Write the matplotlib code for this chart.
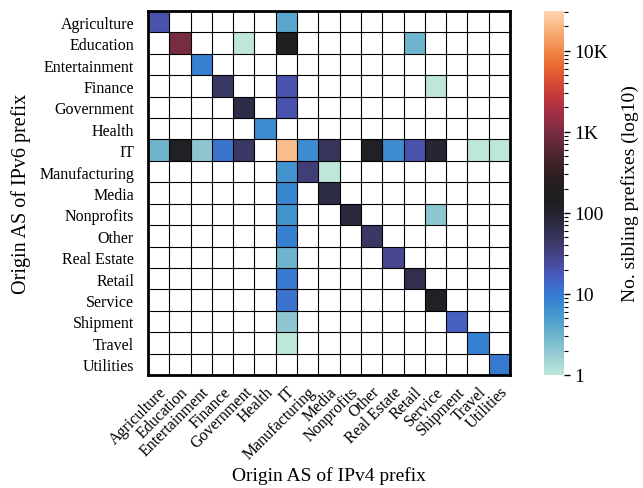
import matplotlib
matplotlib.use('Agg')

import numpy as np
import matplotlib.pyplot as plt
import seaborn as sns
from matplotlib.colors import LogNorm
from matplotlib.ticker import FuncFormatter, LogLocator

plt.rcParams['font.family'] = 'serif'
plt.rcParams['font.serif'] = ['Liberation Serif', 'DejaVu Serif']

sectors = ['Agriculture', 'Education', 'Entertainment', 'Finance', 'Government',
           'Health', 'IT', 'Manufacturing', 'Media', 'Nonprofits', 'Other',
           'Real Estate', 'Retail', 'Service', 'Shipment', 'Travel', 'Utilities']

# rows: IPv6 origin sector, columns: IPv4 origin sector (0 = no siblings)
counts = np.array([
    # Agr  Edu  Ent  Fin  Gov  Hea    IT  Man  Med  Non  Oth  Rea  Ret  Ser  Shi  Tra  Uti
    [  20,   0,   0,   0,   0,   0,     4,   0,   0,   0,   0,   0,   0,   0,   0,   0,   0],
    [   0, 1000,  0,   0,   1,   0,   150,   0,   0,   0,   0,   0,   3,   0,   0,   0,   0],
    [   0,   0,   9,   0,   0,   0,     0,   0,   0,   0,   0,   0,   0,   0,   0,   0,   0],
    [   0,   0,   0,  45,   0,   0,    20,   0,   0,   0,   0,   0,   0,   1,   0,   0,   0],
    [   0,   0,   0,   0,  65,   0,    20,   0,   0,   0,   0,   0,   0,   0,   0,   0,   0],
    [   0,   0,   0,   0,   0,   7,     0,   0,   0,   0,   0,   0,   0,   0,   0,   0,   0],
    [   3, 130,   2,  11,  45,   0, 22000,   7,  50,   0, 130,   7,  20,  90,   0,   1,   1],
    [   0,   0,   0,   0,   0,   0,     6,  35,   1,   0,   0,   0,   0,   0,   0,   0,   0],
    [   0,   0,   0,   0,   0,   0,     8,   0,  65,   0,   0,   0,   0,   0,   0,   0,   0],
    [   0,   0,   0,   0,   0,   0,     6,   0,   0,  80,   0,   0,   0,   2,   0,   0,   0],
    [   0,   0,   0,   0,   0,   0,     9,   0,   0,   0,  45,   0,   0,   0,   0,   0,   0],
    [   0,   0,   0,   0,   0,   0,     3,   0,   0,   0,   0,  28,   0,   0,   0,   0,   0],
    [   0,   0,   0,   0,   0,   0,    10,   0,   0,   0,   0,   0,  60,   0,   0,   0,   0],
    [   0,   0,   0,   0,   0,   0,    11,   0,   0,   0,   0,   0,   0, 130,   0,   0,   0],
    [   0,   0,   0,   0,   0,   0,     2,   0,   0,   0,   0,   0,   0,   0,  15,   0,   0],
    [   0,   0,   0,   0,   0,   0,     1,   0,   0,   0,   0,   0,   0,   0,   0,   9,   0],
    [   0,   0,   0,   0,   0,   0,     0,   0,   0,   0,   0,   0,   0,   0,   0,   0,  10],
], dtype=float)

fig = plt.figure(figsize=(6.43, 4.89), dpi=100)
ax = fig.add_axes([148 / 643, 1 - 376 / 489, 362 / 643, 364 / 489])
cax = fig.add_axes([544 / 643, 1 - 376 / 489, 20 / 643, 364 / 489])

cmap = sns.color_palette('icefire', as_cmap=True).copy()
cmap.set_bad('white')
masked = np.ma.masked_less_equal(counts, 0)
mesh = ax.pcolormesh(masked, cmap=cmap, norm=LogNorm(vmin=1, vmax=3.1e4))

# grid lines around every cell, empty ones too
for k in range(len(sectors) + 1):
    ax.axhline(k, color='black', lw=0.8)
    ax.axvline(k, color='black', lw=0.8)

ax.set_xlim(0, len(sectors))
ax.set_ylim(len(sectors), 0)
ax.set_xticks(np.arange(len(sectors)) + 0.5)
ax.set_yticks(np.arange(len(sectors)) + 0.5)
ax.set_xticklabels(sectors, rotation=45, ha='right', rotation_mode='anchor', fontsize=11.5)
ax.set_yticklabels(sectors, fontsize=11.5)
ax.tick_params(axis='y', length=0, pad=10)
ax.tick_params(axis='x', length=0, pad=6)
for s in ax.spines.values():
    s.set_linewidth(2)
ax.set_xlabel('Origin AS of IPv4 prefix', fontsize=14, labelpad=3)
ax.set_ylabel('Origin AS of IPv6 prefix', fontsize=14.5, labelpad=6)

cb = fig.colorbar(mesh, cax=cax)
cb.outline.set_visible(False)
cb.ax.yaxis.set_major_locator(LogLocator(base=10))
cb.ax.yaxis.set_major_formatter(FuncFormatter(
    lambda v, p: {1: '1', 10: '10', 100: '100', 1000: '1K', 10000: '10K'}.get(int(round(v)), '')))
cb.ax.tick_params(which='major', length=4, width=1, labelsize=14)
cb.ax.tick_params(which='minor', length=3, width=0.8)
cb.set_label('No. sibling prefixes (log10)', fontsize=14, labelpad=9)

plt.savefig('out.png', dpi=100)
